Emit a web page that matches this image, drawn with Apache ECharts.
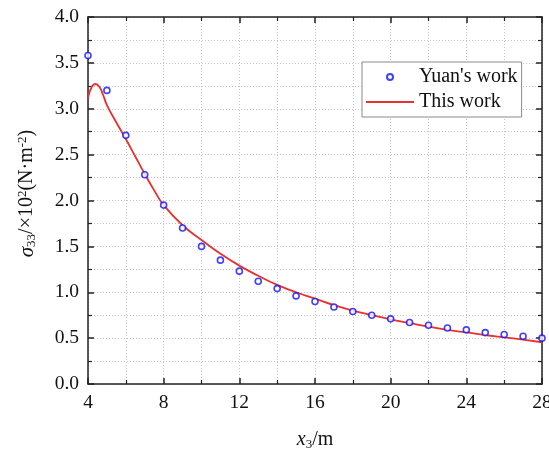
<!DOCTYPE html>
<html>
<head>
<meta charset="utf-8">
<script src="https://cdn.jsdelivr.net/npm/echarts@6/dist/echarts.min.js"></script>
<style>
  html, body { margin: 0; padding: 0; background: #fff; }
  #chart { width: 549px; height: 450px; }
</style>
</head>
<body>
<div id="chart"></div>
<script>
// Yuan's work (measured points)
const pointX = [4, 5, 6, 7, 8, 9, 10, 11, 12, 13, 14, 15, 16, 17, 18, 19, 20, 21, 22, 23, 24, 25, 26, 27, 28];
const pointY = [3.58, 3.20, 2.71, 2.28, 1.95, 1.70, 1.50, 1.35, 1.23, 1.12, 1.04, 0.96, 0.90, 0.84, 0.79, 0.75, 0.71, 0.67, 0.64, 0.61, 0.59, 0.56, 0.54, 0.52, 0.50];

// This work (curve)
const curveX = [4, 4.2, 4.4, 4.6, 4.8, 5, 5.5, 6, 6.5, 7, 7.5, 8, 9, 10, 11, 12, 13, 14, 15, 16, 17, 18, 19, 20, 21, 22, 23, 24, 25, 26, 27, 28];
const curveY = [3.12, 3.24, 3.27, 3.24, 3.15, 3.04, 2.85, 2.67, 2.48, 2.29, 2.11, 1.95, 1.73, 1.57, 1.42, 1.29, 1.18, 1.08, 1.00, 0.93, 0.86, 0.80, 0.75, 0.705, 0.665, 0.625, 0.59, 0.563, 0.534, 0.509, 0.483, 0.455];

const xTicks = { min: 4, max: 28, interval: 4 };
const yTicks = { min: 0, max: 4, interval: 0.5 };

const font = 'Liberation Serif';
const axisColor = '#222';
const gridLine = { show: true, lineStyle: { color: '#c4c4c4', type: [1, 2], width: 1 } };

var chart = echarts.init(document.getElementById('chart'));

function mainAxis(t, pos) {
    return {
        type: 'value',
        position: pos,
        min: t.min,
        max: t.max,
        interval: t.interval,
        axisLine: { show: true, onZero: false, lineStyle: { color: axisColor, width: 1.5 } },
        axisTick: { show: true, inside: true, length: 6, lineStyle: { color: axisColor, width: 1.5 } },
        minorTick: { show: true, splitNumber: 2, length: 4, lineStyle: { color: axisColor, width: 1.2 } },
        splitLine: gridLine,
        minorSplitLine: gridLine,
        axisLabel: { color: '#111', fontFamily: font, fontSize: 19.5, margin: 9 }
    };
}

function mirrorAxis(t, pos) {
    return {
        type: 'value',
        position: pos,
        min: t.min,
        max: t.max,
        interval: t.interval,
        axisLine: { show: true, onZero: false, lineStyle: { color: axisColor, width: 1.5 } },
        axisTick: { show: true, inside: true, length: 6, lineStyle: { color: axisColor, width: 1.5 } },
        minorTick: { show: true, splitNumber: 2, length: 4, lineStyle: { color: axisColor, width: 1.2 } },
        splitLine: { show: false },
        axisLabel: { show: false }
    };
}

var xMain = mainAxis(xTicks, 'bottom');
xMain.axisLabel.formatter = function (v) { return String(v); };
xMain.name = '{i|x}{sub|3}{n|/m}';
xMain.nameLocation = 'middle';
xMain.nameGap = 45;
xMain.nameTextStyle = {
    color: '#111',
    fontFamily: font,
    rich: {
        i: { fontFamily: font, fontSize: 20, fontStyle: 'italic', color: '#111', lineHeight: 22 },
        n: { fontFamily: font, fontSize: 20, color: '#111', lineHeight: 22 },
        sub: { fontFamily: font, fontSize: 13, color: '#111', lineHeight: 12, verticalAlign: 'bottom' }
    }
};

var yMain = mainAxis(yTicks, 'left');
yMain.axisLabel.formatter = function (v) { return v.toFixed(1); };
yMain.name = '{i|σ}{sub|33}{n|/×10}{sup|2}{n|(N·m}{sup|-2}{n|)}';
yMain.nameLocation = 'middle';
yMain.nameRotate = 90;
yMain.nameGap = 50;
yMain.nameTextStyle = {
    color: '#111',
    fontFamily: font,
    padding: [0, 0, 0, 14],
    rich: {
        i: { fontFamily: font, fontSize: 21, fontStyle: 'italic', color: '#111', lineHeight: 22 },
        n: { fontFamily: font, fontSize: 20, color: '#111', lineHeight: 22 },
        sub: { fontFamily: font, fontSize: 13, color: '#111', lineHeight: 12, verticalAlign: 'bottom' },
        sup: { fontFamily: font, fontSize: 13, color: '#111', lineHeight: 12, verticalAlign: 'top' }
    }
};

var option = {
    backgroundColor: '#fff',
    animation: false,
    grid: { left: 88, right: 7, top: 17, bottom: 66, outerBoundsMode: 'none', containLabel: false },
    legend: {
        left: 362,
        top: 62,
        orient: 'vertical',
        backgroundColor: '#fff',
        borderColor: '#8a8a8a',
        borderWidth: 1,
        borderRadius: 0,
        padding: [5, 4, 5, 3],
        itemGap: 5,
        itemWidth: 48,
        itemHeight: 6,
        textStyle: { fontFamily: font, fontSize: 20, color: '#111' },
        data: [
            { name: "Yuan's work" },
            { name: 'This work', itemStyle: { color: 'rgba(0,0,0,0)', borderWidth: 0, opacity: 0 } }
        ]
    },
    xAxis: [xMain, mirrorAxis(xTicks, 'top')],
    yAxis: [yMain, mirrorAxis(yTicks, 'right')],
    series: [
        {
            name: 'This work',
            type: 'line',
            smooth: true,
            symbol: 'none',
            lineStyle: { color: '#e8302f', width: 1.8 },
            itemStyle: { color: '#e8302f' },
            data: curveX.map((x, i) => [x, curveY[i]]),
            z: 3
        },
        {
            name: "Yuan's work",
            type: 'scatter',
            symbol: 'circle',
            symbolSize: 6,
            itemStyle: { color: '#fff', borderColor: '#1010ff', borderWidth: 1.6 },
            data: pointX.map((x, i) => [x, pointY[i]]),
            clip: false,
            z: 4
        }
    ]
};

chart.setOption(option);
</script>
</body>
</html>
